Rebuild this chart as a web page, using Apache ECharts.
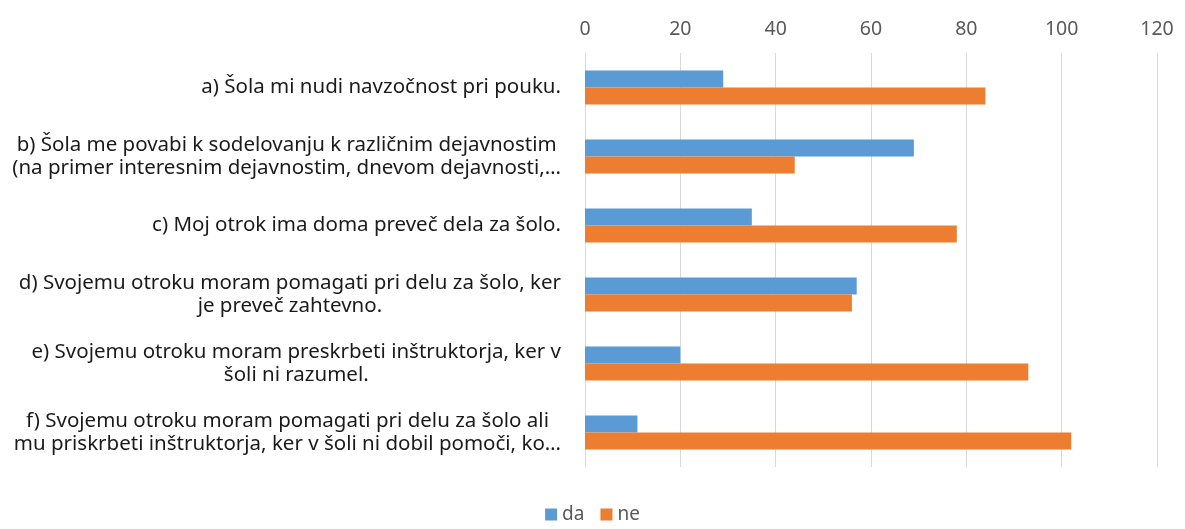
<!DOCTYPE html>
<html><head><meta charset="utf-8">
<script src="https://cdn.jsdelivr.net/npm/echarts@6/dist/echarts.min.js"></script>
<style>html,body{margin:0;padding:0;background:#fff}#c{width:1185px;height:529px}</style>
</head><body><div id="c"></div>
<script>
const categories = [
  'a) Šola mi nudi navzočnost pri pouku.',
  'b) Šola me povabi k sodelovanju k različnim dejavnostim\n(na primer interesnim dejavnostim, dnevom dejavnosti,…',
  'c) Moj otrok ima doma preveč dela za šolo.',
  'd) Svojemu otroku moram pomagati pri delu za šolo, ker\nje preveč zahtevno.',
  'e) Svojemu otroku moram preskrbeti inštruktorja, ker v\nšoli ni razumel.',
  'f) Svojemu otroku moram pomagati pri delu za šolo ali\nmu priskrbeti inštruktorja, ker v šoli ni dobil pomoči, ko…'
];
const da = [29, 69, 35, 57, 20, 11];
const ne = [84, 44, 78, 56, 93, 102];
const seriesNames = ['da', 'ne'];

const FONT = 'Noto Sans';
const chart = echarts.init(document.getElementById('c'));
chart.setOption({
  animation: false,
  textStyle: {fontFamily: FONT},
  grid: {left: 585, right: 28, top: 53, bottom: 62},
  legend: {
    bottom: 0, left: 'center', itemWidth: 12, itemHeight: 12, itemGap: 16,
    icon: 'rect',
    textStyle: {fontSize: 19, color: '#595959', fontFamily: FONT}
  },
  xAxis: {
    type: 'value', position: 'top', min: 0, max: 120, interval: 20,
    axisLine: {show: false}, axisTick: {show: false},
    splitLine: {lineStyle: {color: '#d9d9d9', width: 1}},
    axisLabel: {fontSize: 19.5, color: '#595959', margin: 14, fontFamily: FONT}
  },
  yAxis: {
    type: 'category', inverse: true, data: categories,
    axisLine: {lineStyle: {color: '#d9d9d9'}}, axisTick: {show: false},
    axisLabel: {
      align: 'right', margin: 24, color: '#1a1a1a', fontSize: 20.5, lineHeight: 23,
      formatter: v => v.split('\n').map(l => '{c|' + l + '}').join('\n'),
      rich: {c: {align: 'center', fontSize: 20.5, lineHeight: 23, color: '#1a1a1a', fontFamily: FONT}}
    }
  },
  series: [
    {name: seriesNames[0], type: 'bar', data: da, barWidth: 17, barGap: '0%', itemStyle: {color: '#5B9BD5'}},
    {name: seriesNames[1], type: 'bar', data: ne, barWidth: 17, barGap: '0%', itemStyle: {color: '#ED7D31'}}
  ]
});
</script></body></html>
